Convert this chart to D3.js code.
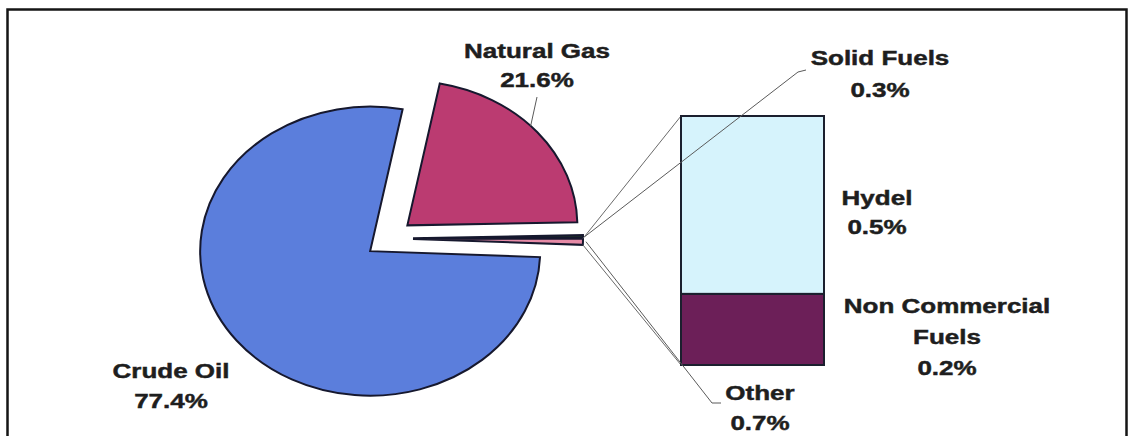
<!DOCTYPE html>
<html>
<head>
<meta charset="utf-8">
<script src="https://cdn.jsdelivr.net/npm/d3@7"></script>
<style>
  html, body { margin: 0; padding: 0; background: #ffffff; }
  svg { display: block; }
  text { font-family: "Liberation Sans", Arial, sans-serif; font-weight: bold; fill: #1e1e1e; stroke: #1e1e1e; stroke-width: 0.45; }
</style>
</head>
<body>
<svg id="chart" width="1135" height="436"></svg>
<script>
// ---- data ----
const pieCategories = ["Natural Gas", "Solid Fuels", "Other", "Crude Oil"];
const pieValues = [21.6, 0.3, 0.7, 77.4];
const barCategories = ["Hydel", "Non Commercial Fuels"];
const barValues = [0.5, 0.2];

// ---- styles / layout ----
const pieColors = { "Natural Gas": "#bb3b71", "Solid Fuels": "#1d2e28", "Other": "#e68aa6", "Crude Oil": "#5b7edc" };
const barColors = { "Hydel": "#d6f3fc", "Non Commercial Fuels": "#6c1f58" };
const cx = 389, cy = 238.5, R = 170, yRatio = 0.85, explode = 24;
const startDeg = 11;
const bar = { x0: 681, x1: 824, yTop: 116, yBottom: 365 };

const svg = d3.select("#chart");

// frame
svg.append("rect").attr("x", 7.5).attr("y", 9.5).attr("width", 1119).attr("height", 450)
  .attr("fill", "none").attr("stroke", "#151515").attr("stroke-width", 2.5);

// pie
const a0 = startDeg * Math.PI / 180;
const pie = d3.pie().sort(null).value(d => d.v).startAngle(a0).endAngle(a0 + 2 * Math.PI);
const arcs = pie(pieCategories.map((c, i) => ({ c, v: pieValues[i] })));
const arcGen = d3.arc().innerRadius(0).outerRadius(R);

const pieG = svg.append("g").attr("transform", `translate(${cx},${cy}) scale(1,${yRatio})`);
function offset(d) {
  const m = (d.startAngle + d.endAngle) / 2;
  return [explode * Math.sin(m), -explode * Math.cos(m)];
}
function toScreen(d, angle, r) {
  const [ox, oy] = offset(d);
  return [cx + ox + r * Math.sin(angle), cy + (oy - r * Math.cos(angle)) * yRatio];
}
pieG.selectAll("path").data(arcs).join("path")
  .attr("transform", d => { const [ox, oy] = offset(d); return `translate(${ox},${oy})`; })
  .attr("d", arcGen)
  .attr("fill", d => pieColors[d.data.c])
  .attr("stroke", "#16182e")
  .attr("stroke-width", 2)
  .attr("vector-effect", "non-scaling-stroke");

const byName = Object.fromEntries(arcs.map(d => [d.data.c, d]));

// bar (stacked, Non Commercial at bottom)
const barTotal = d3.sum(barValues);
const y = d3.scaleLinear().domain([0, barTotal]).range([bar.yBottom, bar.yTop]);
const stackOrder = ["Non Commercial Fuels", "Hydel"];
let acc = 0;
const barSegs = stackOrder.map(c => {
  const v = barValues[barCategories.indexOf(c)];
  const s = { c, y0: acc, y1: acc + v };
  acc += v;
  return s;
});

// connector lines (behind bar)
const other = byName["Other"];
const pTop = toScreen(other, other.startAngle, R);
const pBot = toScreen(other, other.endAngle, R);
const connG = svg.append("g").attr("stroke", "#6a6a6a").attr("stroke-width", 1).attr("fill", "none");
connG.append("line").attr("x1", pTop[0]).attr("y1", pTop[1]).attr("x2", bar.x0).attr("y2", y(barTotal));
connG.append("line").attr("x1", pBot[0]).attr("y1", pBot[1]).attr("x2", bar.x0).attr("y2", y(0));

svg.append("g").selectAll("rect").data(barSegs).join("rect")
  .attr("x", bar.x0).attr("width", bar.x1 - bar.x0)
  .attr("y", d => y(d.y1)).attr("height", d => y(d.y0) - y(d.y1))
  .attr("fill", d => barColors[d.c])
  .attr("stroke", "#1b1f2e").attr("stroke-width", 2);

// leader lines (on top)
const lineG = svg.append("g").attr("stroke", "#5a5a5a").attr("stroke-width", 1).attr("fill", "none");
const sf = byName["Solid Fuels"];
const sfP = toScreen(sf, (sf.startAngle + sf.endAngle) / 2, R + 2);
lineG.append("polyline").attr("points", `${sfP[0]},${sfP[1]} 798,72 806,70`);
const otP = toScreen(other, (other.startAngle + other.endAngle) / 2, R + 3);
lineG.append("polyline").attr("points", `${otP[0]},${otP[1]} 712,403 721,403`);
const ng = byName["Natural Gas"];
const ngP = toScreen(ng, 46.5 * Math.PI / 180, R);
lineG.append("line").attr("x1", ngP[0]).attr("y1", ngP[1]).attr("x2", 537).attr("y2", 97);

// labels
const labels = [
  { lines: ["Natural Gas", pieValues[0] + "%"], x: 537, y: 58, dy: 29 },
  { lines: ["Crude Oil", pieValues[3] + "%"], x: 171, y: 378, dy: 30 },
  { lines: ["Solid Fuels", pieValues[1] + "%"], x: 880, y: 65, dy: 32 },
  { lines: ["Other", pieValues[2] + "%"], x: 760, y: 400, dy: 30 },
  { lines: ["Hydel", barValues[0] + "%"], x: 877, y: 205, dy: 29 },
  { lines: ["Non Commercial", "Fuels", barValues[1] + "%"], x: 947, y: 313, dy: 31 }
];
const labG = svg.append("g");
labels.forEach(l => {
  l.lines.forEach((t, i) => {
    labG.append("text")
      .attr("transform", `translate(${l.x},${l.y + i * l.dy}) scale(1.3,1)`)
      .attr("text-anchor", "middle")
      .attr("font-size", 20)
      .text(t);
  });
});
</script>
</body>
</html>
